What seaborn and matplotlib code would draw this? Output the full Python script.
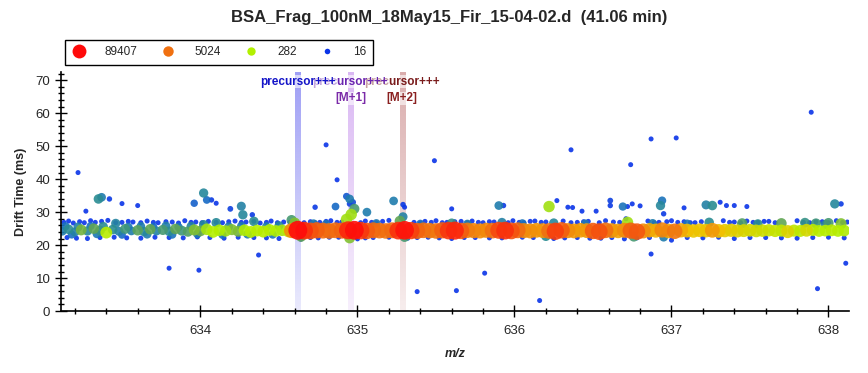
import numpy as np
import pandas as pd
import matplotlib
matplotlib.use("Agg")
import matplotlib.pyplot as plt
import seaborn as sns
from matplotlib.colors import LinearSegmentedColormap, LogNorm, to_rgba
from matplotlib.lines import Line2D
from matplotlib.ticker import MultipleLocator

# ---- data ----
# main ion band, left part (low intensity, teal / green / yellow-green)
left_mz = [633.12, 633.16, 633.20, 633.24, 633.28, 633.32, 633.36, 633.40, 633.44, 633.48,
           633.52, 633.56, 633.60, 633.64, 633.68, 633.72, 633.76, 633.80, 633.84, 633.88,
           633.92, 633.96, 634.00, 634.04, 634.08, 634.12, 634.16, 634.20, 634.24, 634.28,
           634.32, 634.36, 634.40, 634.44, 634.48, 634.52, 634.56]
left_dt = [24.2, 24.8, 24.0, 24.6, 24.3, 25.0, 24.4, 23.8, 24.7, 24.2,
           24.9, 24.3, 24.5, 24.1, 24.8, 24.3, 24.6, 24.2, 24.9, 24.4,
           24.1, 24.6, 24.3, 24.8, 24.0, 24.5, 24.3, 24.7, 24.2, 24.5,
           24.0, 24.4, 24.1, 24.6, 24.3, 24.5, 24.2]
left_int = [60, 90, 70, 180, 80, 150, 100, 320, 90, 70,
            110, 60, 140, 80, 150, 70, 120, 90, 150, 110,
            130, 200, 160, 260, 300, 280, 240, 200, 180, 280,
            320, 300, 330, 300, 280, 260, 350]

# teal rims above / below the left band
rim_mz = [633.14, 633.22, 633.30, 633.38, 633.46, 633.54, 633.62, 633.70, 633.78, 633.86,
          633.94, 634.02, 634.10, 634.18, 634.26, 634.34, 634.42, 634.50,
          633.18, 633.34, 633.50, 633.66, 633.82, 633.98, 634.14, 634.30, 634.46]
rim_dt = [25.7, 25.5, 25.8, 25.6, 26.6, 25.5, 25.7, 25.6, 25.8, 25.5,
          25.7, 26.2, 26.8, 25.6, 25.8, 27.2, 25.6, 25.9,
          23.2, 23.4, 23.1, 23.3, 23.2, 23.4, 23.1, 23.3, 23.2]
rim_int = [50, 70, 45, 90, 75, 55, 60, 40, 65, 50,
           70, 80, 85, 60, 55, 90, 60, 70,
           45, 55, 40, 60, 50, 55, 45, 60, 50]

# main ion band, right part (precursor isotopes, orange / red)
right_mz = [634.58, 634.62, 634.66, 634.70, 634.74, 634.78, 634.82, 634.86, 634.90, 634.94,
            634.98, 635.02, 635.06, 635.10, 635.14, 635.18, 635.22, 635.26, 635.30, 635.34,
            635.38, 635.42, 635.46, 635.50, 635.54, 635.58, 635.62, 635.66, 635.70, 635.74,
            635.78, 635.82, 635.86, 635.90, 635.94, 635.98, 636.02, 636.06, 636.10, 636.14,
            636.18, 636.22, 636.26, 636.30, 636.34, 636.38, 636.42, 636.46, 636.50, 636.54,
            636.58, 636.62, 636.66, 636.70, 636.74, 636.78, 636.82, 636.86, 636.90, 636.94,
            636.98, 637.02, 637.06, 637.10, 637.14, 637.18, 637.22, 637.26, 637.30, 637.34,
            637.38, 637.42, 637.46, 637.50, 637.54, 637.58, 637.62, 637.66, 637.70, 637.74,
            637.78, 637.82, 637.86, 637.90, 637.94, 637.98, 638.02, 638.06, 638.10]
right_dt = [24.4, 24.5, 24.4, 24.3, 24.5, 24.4, 24.3, 24.5, 24.4, 24.5,
            24.5, 24.4, 24.3, 24.5, 24.4, 24.3, 24.5, 24.4, 24.5, 24.4,
            24.3, 24.5, 24.4, 24.3, 24.5, 24.4, 24.4, 24.3, 24.5, 24.4,
            24.3, 24.5, 24.4, 24.5, 24.4, 24.3, 24.5, 24.4, 24.3, 24.5,
            24.4, 24.3, 24.2, 24.5, 24.4, 24.3, 24.5, 24.4, 24.3, 24.1,
            24.5, 24.4, 24.3, 24.5, 24.4, 24.1, 24.3, 24.5, 24.4, 24.6,
            24.3, 24.2, 24.5, 24.4, 24.3, 24.5, 24.4, 24.5, 24.3, 24.4,
            24.5, 24.3, 24.4, 24.5, 24.3, 24.4, 24.5, 24.3, 24.4, 24.1,
            24.4, 24.3, 24.5, 24.6, 24.3, 24.4, 24.5, 24.3, 24.4]
right_int = [3000, 89407, 30000, 12000, 8000, 6000, 5000, 5500, 7000, 40000,
             80000, 25000, 9000, 6000, 5000, 4500, 6000, 30000, 70000, 20000,
             7000, 5000, 4000, 4500, 8000, 25000, 40000, 9000, 4000, 3500,
             3000, 3200, 5000, 15000, 30000, 12000, 6000, 3000, 2800, 2500,
             2600, 5000, 20000, 9000, 3000, 2500, 2200, 2500, 9000, 12000,
             5000, 2500, 2000, 3000, 8000, 10000, 3000, 1800, 1500, 3500,
             2000, 4500, 1800, 1200, 1000, 1100, 1000, 2500, 1200, 900,
             800, 700, 650, 600, 550, 500, 450, 420, 400, 700,
             380, 350, 600, 350, 320, 300, 330, 300, 280]

# green / yellow-green / teal rims on the precursor band
edge_mz = [634.60, 634.64, 634.58, 634.93, 634.96, 634.98, 634.95, 635.27, 635.30, 635.29,
           635.60, 635.92, 636.25, 636.72, 636.76, 637.24, 637.70, 637.85, 638.00, 638.08,
           636.20, 636.95, 637.45, 634.72, 634.80, 635.12, 635.40, 635.70, 636.05, 636.45,
           636.88, 637.10, 637.55, 637.92, 637.98]
edge_dt = [26.7, 22.6, 27.6, 27.8, 29.3, 31.0, 22.2, 27.3, 22.5, 28.6,
           26.6, 26.9, 26.7, 26.9, 22.6, 26.9, 26.6, 26.8, 26.7, 26.5,
           22.7, 22.4, 26.6, 26.5, 26.4, 26.6, 26.5, 26.4, 26.6, 26.5,
           26.6, 26.5, 26.4, 26.6, 26.3]
edge_int = [200, 150, 120, 250, 250, 120, 200, 150, 120, 70,
            100, 70, 80, 250, 120, 90, 150, 100, 120, 200,
            90, 60, 130, 60, 50, 55, 45, 60, 50, 55,
            60, 50, 90, 110, 70]

# small blue dots fringing the band
top_mz = [633.13, 633.16, 633.19, 633.23, 633.26, 633.30, 633.33, 633.37, 633.41, 633.46,
          633.50, 633.54, 633.57, 633.62, 633.66, 633.70, 633.73, 633.78, 633.82, 633.86,
          633.90, 633.94, 633.97, 634.01, 634.05, 634.10, 634.14, 634.18, 634.22, 634.26,
          634.29, 634.34, 634.38, 634.42, 634.45, 634.49, 634.53, 634.57, 634.60, 634.66,
          634.70, 634.73, 634.76, 634.80, 634.83, 634.87, 634.90, 635.02, 635.05, 635.09,
          635.12, 635.16, 635.20, 635.36, 635.40, 635.43, 635.47, 635.50, 635.54, 635.57,
          635.62, 635.66, 635.70, 635.73, 635.77, 635.80, 635.84, 635.87, 635.96, 635.99,
          636.03, 636.06, 636.10, 636.13, 636.17, 636.20, 636.31, 636.36, 636.40, 636.44,
          636.47, 636.54, 636.58, 636.63, 636.67, 636.71, 636.85, 636.89, 636.92, 636.97,
          637.00, 637.04, 637.08, 637.12, 637.15, 637.19, 637.33, 637.37, 637.40, 637.44,
          637.48, 637.52, 637.55, 637.59, 637.62, 637.66, 637.80, 637.84, 637.88, 637.92,
          637.96, 638.00, 638.05, 638.09, 638.12]
top_dt = [26.9, 27.3, 26.7, 27.1, 26.8, 27.4, 26.9, 27.2, 27.5, 26.8,
          26.9, 27.2, 27.0, 26.8, 27.3, 26.9, 26.8, 27.1, 27.0, 26.7,
          27.4, 26.9, 27.0, 26.8, 27.2, 26.9, 26.8, 27.1, 27.3, 26.9,
          27.0, 27.2, 26.7, 26.9, 27.3, 26.8, 27.0, 26.9, 27.2, 26.8,
          27.1, 26.8, 26.9, 27.2, 27.4, 26.9, 27.0, 26.8, 27.3, 26.9,
          26.8, 27.2, 27.5, 26.9, 26.7, 27.2, 26.9, 27.4, 26.8, 26.9,
          27.1, 27.2, 26.8, 27.3, 26.9, 26.8, 27.1, 27.0, 26.8, 27.4,
          26.9, 26.8, 27.2, 27.3, 26.9, 27.0, 27.3, 26.8, 26.9, 27.1,
          27.2, 26.8, 27.4, 27.0, 26.9, 28.0, 27.3, 26.8, 26.9, 27.1,
          27.4, 26.9, 27.1, 26.8, 26.8, 27.1, 27.4, 26.9, 27.0, 26.8,
          27.3, 26.9, 26.9, 27.2, 27.2, 26.8, 27.4, 26.9, 26.8, 27.1,
          27.1, 26.8, 27.4, 26.9, 27.0]
bot_mz = [633.15, 633.21, 633.28, 633.36, 633.45, 633.53, 633.62, 633.71, 633.80, 633.89,
          633.98, 634.06, 634.15, 634.24, 634.34, 634.42, 634.50, 634.64, 634.70, 634.75,
          634.82, 634.88, 635.00, 635.05, 635.10, 635.20, 635.32, 635.38, 635.45, 635.52,
          635.60, 635.68, 635.75, 635.84, 635.92, 636.05, 636.12, 636.25, 636.32, 636.40,
          636.48, 636.55, 636.62, 636.70, 636.78, 636.86, 637.00, 637.10, 637.20, 637.30,
          637.40, 637.50, 637.60, 637.70, 637.80, 637.90, 638.00, 638.10]
bot_dt = [22.3, 22.1, 22.0, 22.3, 22.4, 22.2, 22.1, 22.4, 22.3, 22.2,
          22.5, 22.3, 22.1, 22.4, 22.3, 22.2, 22.0, 21.8, 22.3, 22.2,
          22.4, 22.4, 21.9, 22.2, 22.3, 22.4, 22.1, 22.3, 22.4, 22.2,
          22.0, 22.3, 22.3, 22.2, 22.2, 22.4, 22.3, 22.0, 22.2, 22.3,
          22.1, 22.1, 22.3, 21.9, 22.2, 22.3, 21.5, 22.3, 22.2, 22.4,
          22.0, 22.3, 22.3, 22.2, 22.1, 22.3, 22.4, 22.2]

# raised clusters above the band
clu_mz = [633.35, 633.37, 633.42, 633.50, 633.60, 633.27, 634.02, 634.04, 633.96, 634.07,
          634.10, 634.19, 634.26, 634.27, 634.33, 634.73, 634.86, 634.95, 634.93, 634.97,
          634.95, 635.06, 635.23, 635.29, 635.30, 635.60, 635.90, 635.93, 636.22, 636.27,
          636.34, 636.37, 636.43, 636.52, 636.61, 636.61, 636.69, 636.72, 636.75, 636.80,
          636.93, 636.94, 636.95, 637.08, 637.22, 637.26, 637.31, 637.35, 637.40, 637.48,
          638.04, 638.08]
clu_dt = [34.0, 34.5, 34.0, 32.6, 32.0, 30.3, 35.8, 33.7, 32.7, 33.7,
          32.7, 31.0, 31.8, 29.2, 29.2, 31.5, 31.7, 34.0, 34.8, 33.0,
          32.5, 30.0, 33.4, 32.3, 31.5, 31.0, 32.0, 32.0, 31.7, 33.5,
          31.5, 31.4, 30.3, 30.3, 33.5, 32.0, 31.7, 31.7, 32.5, 31.9,
          32.0, 33.5, 29.5, 31.3, 32.2, 32.0, 33.0, 32.0, 32.0, 31.7,
          32.5, 32.5]
clu_int = [90, 60, 18, 16, 16, 16, 80, 40, 35, 18,
           16, 20, 70, 80, 18, 18, 40, 60, 30, 25,
           20, 60, 60, 18, 16, 16, 60, 18, 250, 16,
           16, 16, 16, 16, 20, 18, 50, 16, 16, 16,
           80, 50, 18, 16, 70, 90, 16, 16, 16, 16,
           80, 18]

# isolated outliers
out_mz = [633.22, 634.80, 634.87, 635.49, 636.36, 636.74, 636.87, 637.03, 637.89,
          633.80, 633.99, 634.37, 635.38, 635.63, 635.81, 636.16, 636.87, 637.93, 638.11]
out_dt = [42.0, 50.4, 39.8, 45.6, 48.9, 44.4, 52.2, 52.5, 60.3,
          13.0, 12.4, 17.0, 5.9, 6.2, 11.5, 3.2, 17.3, 6.8, 14.5]

precursor_mz = [634.62, 634.955, 635.285]
precursor_lbl = ["precursor+++", "precursor+++\n[M+1]", "precursor+++\n[M+2]"]
legend_vals = [89407, 5024, 282, 16]

# ---- build frame ----
dots_mz = top_mz + bot_mz + out_mz
dots_dt = top_dt + bot_dt + out_dt
df = pd.DataFrame({
    "mz": left_mz + rim_mz + right_mz + edge_mz + clu_mz + dots_mz,
    "dt": left_dt + rim_dt + right_dt + edge_dt + clu_dt + dots_dt,
    "intensity": left_int + rim_int + right_int + edge_int + clu_int + [16] * len(dots_mz),
})
df = df.sort_values("intensity", kind="stable").reset_index(drop=True)

cmap = LinearSegmentedColormap.from_list("ims", [
    (0.00, "#0a34e8"), (0.12, "#1870c0"), (0.20, "#2a8c92"), (0.27, "#6aaa48"),
    (0.333, "#b2f000"), (0.50, "#f2c000"), (0.667, "#f07010"), (1.00, "#ff0a0a")])
norm = LogNorm(16, 89407)

sns.set_theme(style="ticks")
plt.rcParams["font.family"] = ["Liberation Sans", "DejaVu Sans"]

fig = plt.figure(figsize=(8.68, 3.73), dpi=100)
ax = fig.add_axes([0.070, 0.166, 0.908, 0.641])

# precursor marker bands (vertical fading stripes)
band_cols = ["#9494f4", "#d6b0f2", "#d6a4a4"]
for mz, col in zip(precursor_mz, band_cols):
    rgba = np.zeros((64, 1, 4))
    rgba[..., :3] = to_rgba(col)[:3]
    rgba[:, 0, 3] = np.linspace(0.9, 0.2, 64)
    ax.imshow(rgba, extent=(mz - 0.017, mz + 0.017, 0, 72.5), aspect="auto",
              origin="upper", zorder=0.5, interpolation="bilinear")

sns.scatterplot(data=df, x="mz", y="dt", hue="intensity", size="intensity",
                palette=cmap, hue_norm=norm, size_norm=norm, sizes=(13, 185),
                linewidth=0, alpha=0.9, legend=False, ax=ax, zorder=2)

txt_cols = [("#1414c8", None), ("#6a24b0", "#7a2aa8"), ("#7a1c1c", "#8a2020")]
for i, (mz, lbl) in enumerate(zip(precursor_mz, precursor_lbl)):
    first, *rest = lbl.split("\n")
    ax.text(mz, 69.6, first, ha="center", va="center", fontsize=8.5, fontweight="bold",
            color=txt_cols[i][0], zorder=10 - i,
            bbox=dict(facecolor="white", alpha=0.6, edgecolor="none", pad=0.3))
    if rest:
        ax.text(mz, 64.6, rest[0], ha="center", va="center", fontsize=8.5, fontweight="bold",
                color=txt_cols[i][1], zorder=10 - i,
                bbox=dict(facecolor="white", alpha=0.6, edgecolor="none", pad=0.3))

ax.set_xlim(633.11, 638.13)
ax.set_ylim(0, 72.5)
ax.xaxis.set_major_locator(MultipleLocator(1))
ax.xaxis.set_minor_locator(MultipleLocator(0.2))
ax.yaxis.set_major_locator(MultipleLocator(10))
ax.yaxis.set_minor_locator(MultipleLocator(2))
ax.tick_params(which="major", direction="inout", length=8, width=1, labelsize=9.5, color="black")
ax.tick_params(which="minor", direction="inout", length=5, width=1, color="black")
ax.tick_params(axis="x", pad=6)
for s in ["top", "right"]:
    ax.spines[s].set_visible(False)
for s in ["left", "bottom"]:
    ax.spines[s].set_color("black")
    ax.spines[s].set_linewidth(1.2)
ax.set_xlabel("m/z", fontsize=9, fontweight="bold", style="italic", labelpad=8)
ax.set_ylabel("Drift Time (ms)", fontsize=9, fontweight="bold", labelpad=6)

fig.text(0.518, 0.952, "BSA_Frag_100nM_18May15_Fir_15-04-02.d  (41.06 min)",
         ha="center", va="center", fontsize=12, fontweight="bold")

handles = [Line2D([], [], marker="o", linestyle="none", markersize=d,
                  markerfacecolor=cmap(norm(v)), markeredgewidth=0)
           for v, d in zip(legend_vals, [10, 7.5, 6, 4])]
fig.legend(handles, [str(v) for v in legend_vals], ncol=4, loc="upper left",
           bbox_to_anchor=(65 / 868, 1 - 40 / 373), borderaxespad=0, frameon=True,
           fancybox=False, edgecolor="black", framealpha=1, fontsize=8.5,
           handletextpad=1.6, columnspacing=2.0, borderpad=0.55, handlelength=1.2)

fig.savefig("out.png", dpi=100)
